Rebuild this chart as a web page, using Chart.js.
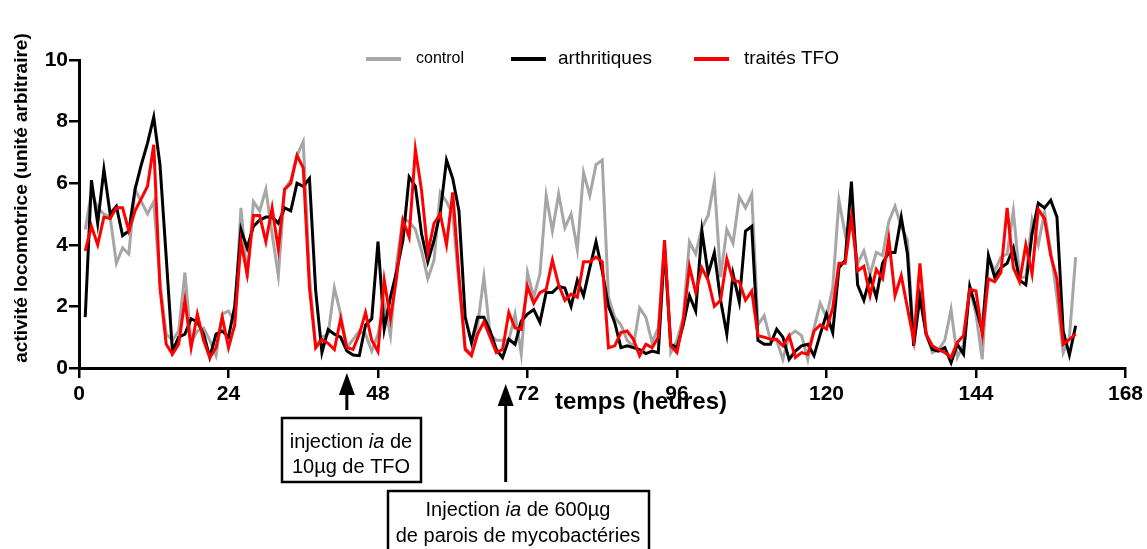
<!DOCTYPE html>
<html>
<head>
<meta charset="utf-8">
<script src="https://cdn.jsdelivr.net/npm/chart.js@4.4.0/dist/chart.umd.min.js"></script>
<style>
   html, body { margin: 0; padding: 0; background: #fff; }
   #wrap { position: relative; width: 1147px; height: 549px; }
</style>
</head>
<body>
<div id="wrap"><canvas id="chart" width="1147" height="549"></canvas></div>
<script>
// hourly recordings, first point at hour 1
const firstHour = 1;
const xTicks = [0, 24, 48, 72, 96, 120, 144, 168];
const yTicks = [0, 2, 4, 6, 8, 10];

const control = [
   4.5, 5.7, 5.2, 5.0, 4.9, 3.4, 3.9, 3.7, 5.8, 5.4,
   5.0, 5.4, 2.8, 1.1, 0.9, 1.2, 3.1, 0.83, 1.2, 1.3,
   0.9, 0.4, 1.75, 1.85, 1.5, 5.2, 2.9, 5.4, 5.1, 5.8,
   4.35, 3.0, 5.8, 6.1, 6.9, 7.35, 3.0, 0.7, 1.0, 1.1,
   2.6, 1.75, 0.66, 0.93, 1.2, 1.1, 0.55, 1.1, 2.1, 1.05,
   3.4, 4.85, 4.75, 4.5, 3.8, 2.9, 3.5, 5.7, 5.4, 5.0,
   2.7, 0.66, 0.45, 1.4, 2.95, 1.1, 0.9, 0.9, 0.9, 1.75,
   0.45, 3.1, 2.3, 3.05, 5.6, 4.45, 5.65, 4.55, 5.0, 3.85,
   6.35, 5.6, 6.6, 6.75, 2.3, 1.65, 1.4, 0.9, 0.7, 1.95,
   1.65, 0.83, 1.3, 4.1, 0.5, 0.9, 1.65, 4.1, 3.7, 4.55,
   4.95, 6.05, 2.95, 4.5, 4.05, 5.55, 5.2, 5.65, 1.4, 1.7,
   0.9, 0.9, 0.28, 1.05, 1.2, 1.05, 0.28, 1.3, 2.1, 1.65,
   2.6, 5.45, 4.35, 4.9, 3.4, 3.8, 3.05, 3.75, 3.65, 4.75,
   5.25, 4.6, 4.15, 0.9, 2.4, 1.1, 0.5, 0.6, 0.9, 1.9,
   0.34, 0.77, 2.6, 1.75, 0.28, 3.6, 3.15, 3.6, 3.7, 5.1,
   2.95, 2.95, 4.8, 4.0, 5.05, 3.8, 2.3, 0.5, 1.0, 3.6
];

const arthritiques = [
   1.65, 6.1, 4.7, 6.45, 5.0, 5.25, 4.3, 4.45, 5.8, 6.6,
   7.3, 8.15, 6.6, 3.6, 0.55, 1.0, 1.1, 1.6, 1.5, 1.1,
   0.35, 1.1, 1.2, 1.0, 2.0, 4.5, 3.9, 4.6, 4.8, 4.9,
   4.9, 4.7, 5.2, 5.1, 6.0, 5.9, 6.15, 2.5, 0.5, 1.25,
   1.1, 1.0, 0.55, 0.42, 0.4, 1.4, 1.6, 4.1, 1.26, 2.3,
   3.15, 4.15, 6.2, 5.9, 4.35, 3.45, 4.15, 5.05, 6.75, 6.15,
   5.1, 1.65, 0.83, 1.65, 1.65, 1.2, 0.6, 0.34, 0.93, 0.77,
   1.53, 1.75, 1.9, 1.48, 2.45, 2.45, 2.65, 2.6, 2.0, 2.85,
   2.35, 3.25, 4.1, 3.15, 2.0, 1.48, 0.66, 0.72, 0.66, 0.6,
   0.47, 0.55, 0.5, 3.9, 0.77, 0.66, 1.4, 2.35, 1.85, 4.45,
   3.05, 3.75, 2.2, 1.1, 3.05, 2.15, 4.45, 4.6, 0.9, 0.77,
   0.77, 1.26, 1.0, 0.28, 0.55, 0.72, 0.77, 0.4, 1.1, 1.75,
   1.15, 3.25, 3.5, 6.05, 2.7, 2.2, 2.95, 2.3, 3.4, 3.75,
   3.75, 4.9, 3.7, 0.72, 2.3, 1.1, 0.6, 0.55, 0.66, 0.17,
   0.77, 0.45, 2.65, 1.95, 1.2, 3.65, 2.95, 3.25, 3.4, 3.9,
   2.85, 2.7, 4.35, 5.35, 5.2, 5.45, 4.9, 1.2, 0.42, 1.37
];

const traitesTFO = [
   3.8, 4.6, 4.0, 4.9, 4.85, 5.2, 5.2, 4.45, 5.1, 5.5,
   5.9, 7.25, 2.6, 0.77, 0.45, 0.77, 2.2, 0.66, 1.75, 0.9,
   0.34, 0.66, 1.65, 0.66, 1.4, 4.1, 3.05, 4.95, 4.95, 4.1,
   5.2, 3.85, 5.8, 6.0, 6.9, 6.5, 2.6, 0.66, 0.93, 0.8,
   0.6, 1.6, 0.66, 0.6, 1.1, 1.8, 0.9, 0.53, 2.85, 1.6,
   2.95, 4.8, 4.25, 7.1, 5.75, 3.75, 4.7, 5.0, 4.0, 5.7,
   3.0, 0.6, 0.4, 1.1, 1.5, 1.0, 0.5, 0.6, 1.8, 1.3,
   1.25, 2.65, 2.1, 2.45, 2.55, 3.5, 2.7, 2.2, 2.4, 2.3,
   3.45, 3.45, 3.6, 3.45, 0.66, 0.72, 1.15, 1.2, 0.93, 0.4,
   0.77, 0.66, 1.0, 4.15, 0.72, 0.5, 1.53, 3.3, 2.45, 3.25,
   2.85, 2.0, 2.2, 3.55, 2.85, 2.8, 2.2, 2.5, 1.05, 1.0,
   0.93, 0.93, 0.72, 1.05, 0.34, 0.5, 0.45, 1.2, 1.4, 1.26,
   1.95, 3.4, 3.4, 4.9, 3.15, 3.3, 2.35, 3.2, 2.9, 4.2,
   2.35, 3.0, 1.95, 0.9, 3.4, 1.1, 0.72, 0.6, 0.5, 0.34,
   0.83, 1.05, 2.55, 2.5, 1.1, 2.9, 2.8, 3.1, 5.2, 3.25,
   2.8, 4.0, 3.05, 5.15, 4.85, 3.65, 2.9, 0.77, 0.93, 1.1
];

// injection times (hours) marked with arrows
const injectionTFO = 43;
const injectionMyco = 68.5;

const FONT = "'Liberation Sans', Arial, sans-serif";

function toPoints(values) {
   return values.map((v, i) => ({ x: firstHour + i, y: v }));
}

// draws one line of text made of [text, italic] pieces, centred on cx
function mixedText(ctx, pieces, cx, cy, size) {
   let total = 0;
   pieces.forEach(p => {
      ctx.font = (p[1] ? 'italic ' : '') + size + 'px ' + FONT;
      total += ctx.measureText(p[0]).width;
   });
   let x = cx - total / 2;
   ctx.textAlign = 'left';
   pieces.forEach(p => {
      ctx.font = (p[1] ? 'italic ' : '') + size + 'px ' + FONT;
      ctx.fillText(p[0], x, cy);
      x += ctx.measureText(p[0]).width;
   });
}

function arrowUp(ctx, x, tipY, tailY) {
   ctx.lineWidth = 3;
   ctx.beginPath();
   ctx.moveTo(x, tailY);
   ctx.lineTo(x, tipY + 15);
   ctx.stroke();
   ctx.beginPath();
   ctx.moveTo(x, tipY);
   ctx.lineTo(x - 8, tipY + 22);
   ctx.lineTo(x + 8, tipY + 22);
   ctx.closePath();
   ctx.fill();
}

const extras = {
   id: 'extras',
   afterDraw(chart) {
      const ctx = chart.ctx;
      const xs = chart.scales.x;
      ctx.save();
      ctx.fillStyle = '#000';
      ctx.strokeStyle = '#000';
      ctx.textBaseline = 'middle';

      // legend
      const legendPos = [
         { lineX: 366, textX: 416, size: 16 },
         { lineX: 511, textX: 558, size: 19 },
         { lineX: 694, textX: 744, size: 19 },
      ];
      chart.data.datasets.forEach((ds, i) => {
         const p = legendPos[i];
         ctx.strokeStyle = ds.borderColor;
         ctx.lineWidth = 4;
         ctx.beginPath();
         ctx.moveTo(p.lineX, 59);
         ctx.lineTo(p.lineX + 35, 59);
         ctx.stroke();
         ctx.fillStyle = '#000';
         ctx.font = p.size + 'px ' + FONT;
         ctx.textAlign = 'left';
         ctx.fillText(ds.label, p.textX, 59);
      });

      // axis titles
      ctx.fillStyle = '#000';
      ctx.strokeStyle = '#000';
      ctx.font = 'bold 24px ' + FONT;
      ctx.textAlign = 'center';
      ctx.fillText('temps (heures)', 641, 402);

      ctx.save();
      ctx.translate(22, 198);
      ctx.rotate(-Math.PI / 2);
      ctx.font = 'bold 19px ' + FONT;
      ctx.fillText('activité locomotrice (unité arbitraire)', 0, 0);
      ctx.restore();

      // injection arrows
      arrowUp(ctx, xs.getPixelForValue(injectionTFO), 373, 410);
      arrowUp(ctx, xs.getPixelForValue(injectionMyco), 384, 482);

      // boxes
      ctx.lineWidth = 2.5;
      ctx.strokeRect(282, 418, 139, 64);
      mixedText(ctx, [['injection ', false], ['ia', true], [' de', false]], 351, 442, 20);
      mixedText(ctx, [['10µg de TFO', false]], 351, 467, 20);

      ctx.strokeRect(388, 491, 261, 64);
      mixedText(ctx, [['Injection ', false], ['ia', true], [' de 600µg', false]], 518, 510, 20);
      mixedText(ctx, [['de parois de mycobactéries', false]], 518, 536, 20);

      ctx.restore();
   }
};

const ctx = document.getElementById('chart').getContext('2d');

new Chart(ctx, {
   type: 'line',
   data: {
      datasets: [
         {
            label: 'control',
            data: toPoints(control),
            borderColor: '#a6a6a6',
            borderWidth: 3,
            order: 3,
         },
         {
            label: 'arthritiques',
            data: toPoints(arthritiques),
            borderColor: '#000000',
            borderWidth: 3,
            order: 2,
         },
         {
            label: 'traités TFO',
            data: toPoints(traitesTFO),
            borderColor: '#ff0000',
            borderWidth: 3,
            order: 1,
         },
      ],
   },
   options: {
      responsive: false,
      animation: false,
      devicePixelRatio: 1,
      elements: {
         point: { radius: 0 },
         line: { tension: 0, borderJoinStyle: 'miter', fill: false },
      },
      layout: {
         padding: { top: 60, right: 20, bottom: 141, left: 0 },
      },
      plugins: {
         legend: { display: false },
         tooltip: { enabled: false },
      },
      scales: {
         x: {
            type: 'linear',
            min: 0,
            max: 168,
            afterBuildTicks: (scale) => { scale.ticks = xTicks.map(v => ({ value: v })); },
            afterFit: (scale) => { scale.height = 40; },
            grid: {
               drawOnChartArea: false,
               drawTicks: true,
               tickLength: 10,
               color: '#000',
               lineWidth: 2.5,
            },
            border: { display: true, color: '#000', width: 3 },
            ticks: {
               color: '#000',
               padding: 4,
               maxRotation: 0,
               font: { family: FONT, size: 21, weight: 'bold' },
            },
         },
         y: {
            min: 0,
            max: 10,
            afterBuildTicks: (scale) => { scale.ticks = yTicks.map(v => ({ value: v })); },
            afterFit: (scale) => { scale.width = 79; },
            grid: {
               drawOnChartArea: false,
               drawTicks: true,
               tickLength: 10,
               color: '#000',
               lineWidth: 2.5,
            },
            border: { display: true, color: '#000', width: 3 },
            ticks: {
               color: '#000',
               padding: 1,
               font: { family: FONT, size: 21, weight: 'bold' },
            },
         },
      },
   },
   plugins: [extras],
});
</script>
</body>
</html>
